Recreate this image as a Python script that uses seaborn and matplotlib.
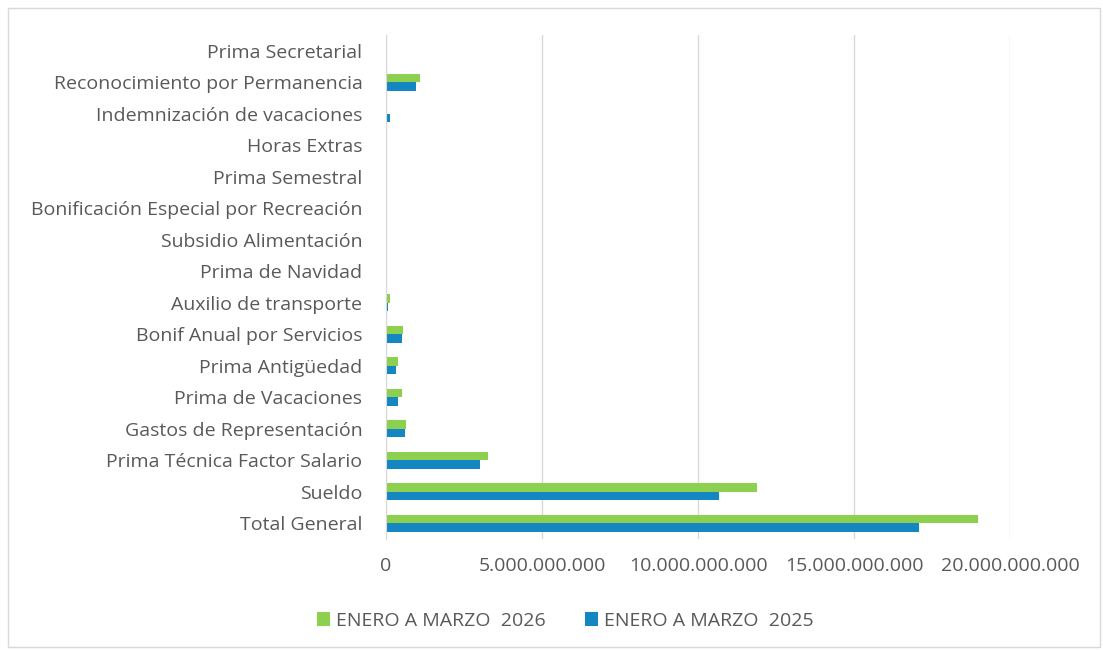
import numpy as np
import pandas as pd
import seaborn as sns
import matplotlib.pyplot as plt
from matplotlib.ticker import FuncFormatter
from matplotlib.patches import Rectangle

# categories from top to bottom
conceptos = [
    "Prima Secretarial", "Reconocimiento por Permanencia", "Indemnización de vacaciones",
    "Horas Extras", "Prima Semestral", "Bonificación Especial por Recreación",
    "Subsidio Alimentación", "Prima de Navidad", "Auxilio de transporte",
    "Bonif Anual por Servicios", "Prima Antigüedad", "Prima de Vacaciones",
    "Gastos de Representación", "Prima Técnica Factor Salario", "Sueldo", "Total General",
]
valores_2026 = [0, 1.08e9, 0.02e9, 0, 0, 0, 0, 0, 0.14e9, 0.54e9, 0.38e9, 0.50e9,
                0.65e9, 3.28e9, 11.88e9, 18.96e9]
valores_2025 = [0, 0.96e9, 0.14e9, 0, 0, 0, 0, 0, 0.06e9, 0.50e9, 0.33e9, 0.39e9,
                0.61e9, 3.00e9, 10.68e9, 17.07e9]
series = ["ENERO A MARZO  2026", "ENERO A MARZO  2025"]
colores = ["#8DCF4F", "#1486C2"]

df = pd.DataFrame({
    "concepto": conceptos * 2,
    "valor": valores_2026 + valores_2025,
    "serie": [series[0]] * len(conceptos) + [series[1]] * len(conceptos),
})

sns.set_style("white")
plt.rcParams['font.family'] = ['Open Sans', 'DejaVu Sans']

fig = plt.figure(figsize=(11.03, 6.5), dpi=100)
ax = fig.add_axes([0.35, 0.171, 0.5657, 0.775])

sns.barplot(data=df, x="valor", y="concepto", hue="serie", order=conceptos,
            hue_order=series, palette=colores, width=0.54, orient="h", ax=ax,
            saturation=1, errorbar=None, linewidth=0)

ax.set_xlim(0, 20e9)
ax.set_xticks(np.arange(0, 20e9 + 1, 5e9))
ax.xaxis.set_major_formatter(FuncFormatter(lambda v, p: f"{v:,.0f}".replace(",", ".")))
ax.grid(axis="x", color="#D9D9D9", linewidth=1)
ax.set_axisbelow(True)
for s in ["top", "right", "bottom"]:
    ax.spines[s].set_visible(False)
ax.spines["left"].set_color("#D9D9D9")
ax.tick_params(axis="both", length=0, labelsize=14, labelcolor="#595959")
ax.tick_params(axis="y", pad=17)
ax.tick_params(axis="x", pad=13)
ax.set_xlabel("")
ax.set_ylabel("")

ax.legend(loc="upper center", bbox_to_anchor=(0.287, -0.11), ncol=2, frameon=False,
          fontsize=14, labelcolor="#595959", handlelength=0.7, handleheight=0.7,
          columnspacing=2.0, handletextpad=0.3)

fig.patches.append(Rectangle((0.007, 0.004), 0.99, 0.984, transform=fig.transFigure,
                             fill=False, edgecolor="#D9D9D9", linewidth=1))

fig.savefig("out.png", dpi=100, facecolor="white")
